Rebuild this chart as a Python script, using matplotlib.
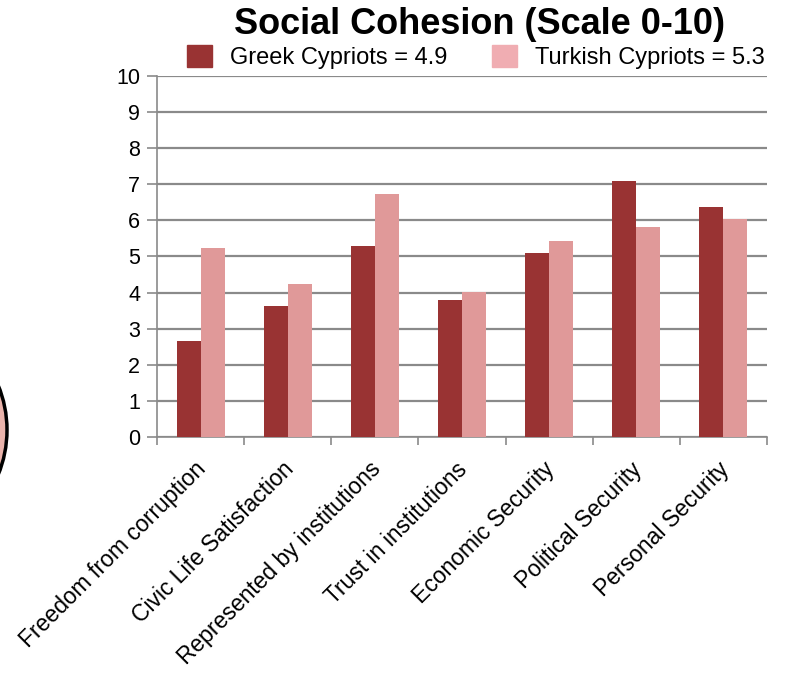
import numpy as np
import matplotlib
matplotlib.use("Agg")
import matplotlib.pyplot as plt
from matplotlib.patches import Circle, Patch
from matplotlib.transforms import ScaledTranslation

plt.rcParams['font.family'] = ['Liberation Sans', 'DejaVu Sans']

categories = ['Freedom from corruption', 'Civic Life Satisfaction', 'Represented by institutions',
              'Trust in institutions', 'Economic Security', 'Political Security', 'Personal Security']
greek = [2.65, 3.63, 5.29, 3.79, 5.10, 7.09, 6.36]
turkish = [5.23, 4.24, 6.72, 4.02, 5.42, 5.82, 6.05]
legend_labels = ['Greek Cypriots = 4.9', 'Turkish Cypriots = 5.3']

greek_color = '#993333'
turkish_color = '#e09999'
grid_color = '#8a8a8a'

fig = plt.figure(figsize=(7.85, 6.78), dpi=100)
ax = fig.add_axes([0.2, 0.3555, 0.777, 0.5325])

x = np.arange(len(categories))
w = 0.275
ax.bar(x - w / 2, greek, w, color=greek_color, zorder=3)
ax.bar(x + w / 2, turkish, w, color=turkish_color, zorder=3)

ax.set_xlim(-0.5, len(categories) - 0.5)
ax.set_ylim(0, 10)
ax.set_yticks(range(0, 11))
ax.yaxis.grid(True, color=grid_color, linewidth=1.6, zorder=0)
for s in ['top', 'right']:
    ax.spines[s].set_visible(False)
for s in ['left', 'bottom']:
    ax.spines[s].set_color(grid_color)
    ax.spines[s].set_linewidth(1.2)
ax.tick_params(axis='y', length=7, width=1.2, color=grid_color, labelsize=15.5, pad=5)

ax.set_xticks(x)
ax.set_xticklabels(categories, rotation=45, ha='right', rotation_mode='anchor', fontsize=16.5)
ax.tick_params(axis='x', which='major', length=0, pad=12)
ax.set_xticks(np.arange(-0.5, len(categories)), minor=True)
ax.tick_params(axis='x', which='minor', length=6, width=1.2, color=grid_color)
# nudge the rotated labels a little left and down
shift = ScaledTranslation(-0.06, -0.04, fig.dpi_scale_trans)
for lbl in ax.get_xticklabels():
    lbl.set_transform(lbl.get_transform() + shift)

fig.text(480 / 785, 1 - 25 / 678, 'Social Cohesion (Scale 0-10)', ha='center', va='center',
         fontsize=26, fontweight='bold')

handles = [Patch(color=greek_color), Patch(color='#f0adb2')]
fig.legend(handles, legend_labels, loc='center', bbox_to_anchor=(476 / 785, 1 - 57 / 678), ncol=2,
           frameon=False, fontsize=17, handlelength=1.06, handleheight=1.06, handletextpad=0.76,
           columnspacing=1.9, borderpad=0)

# partial circle at left edge
fig.add_artist(Circle((-111, 248), 118, transform=None, facecolor='#eab3ab',
                      edgecolor='black', linewidth=2.5))

fig.savefig('out.png', dpi=100)
